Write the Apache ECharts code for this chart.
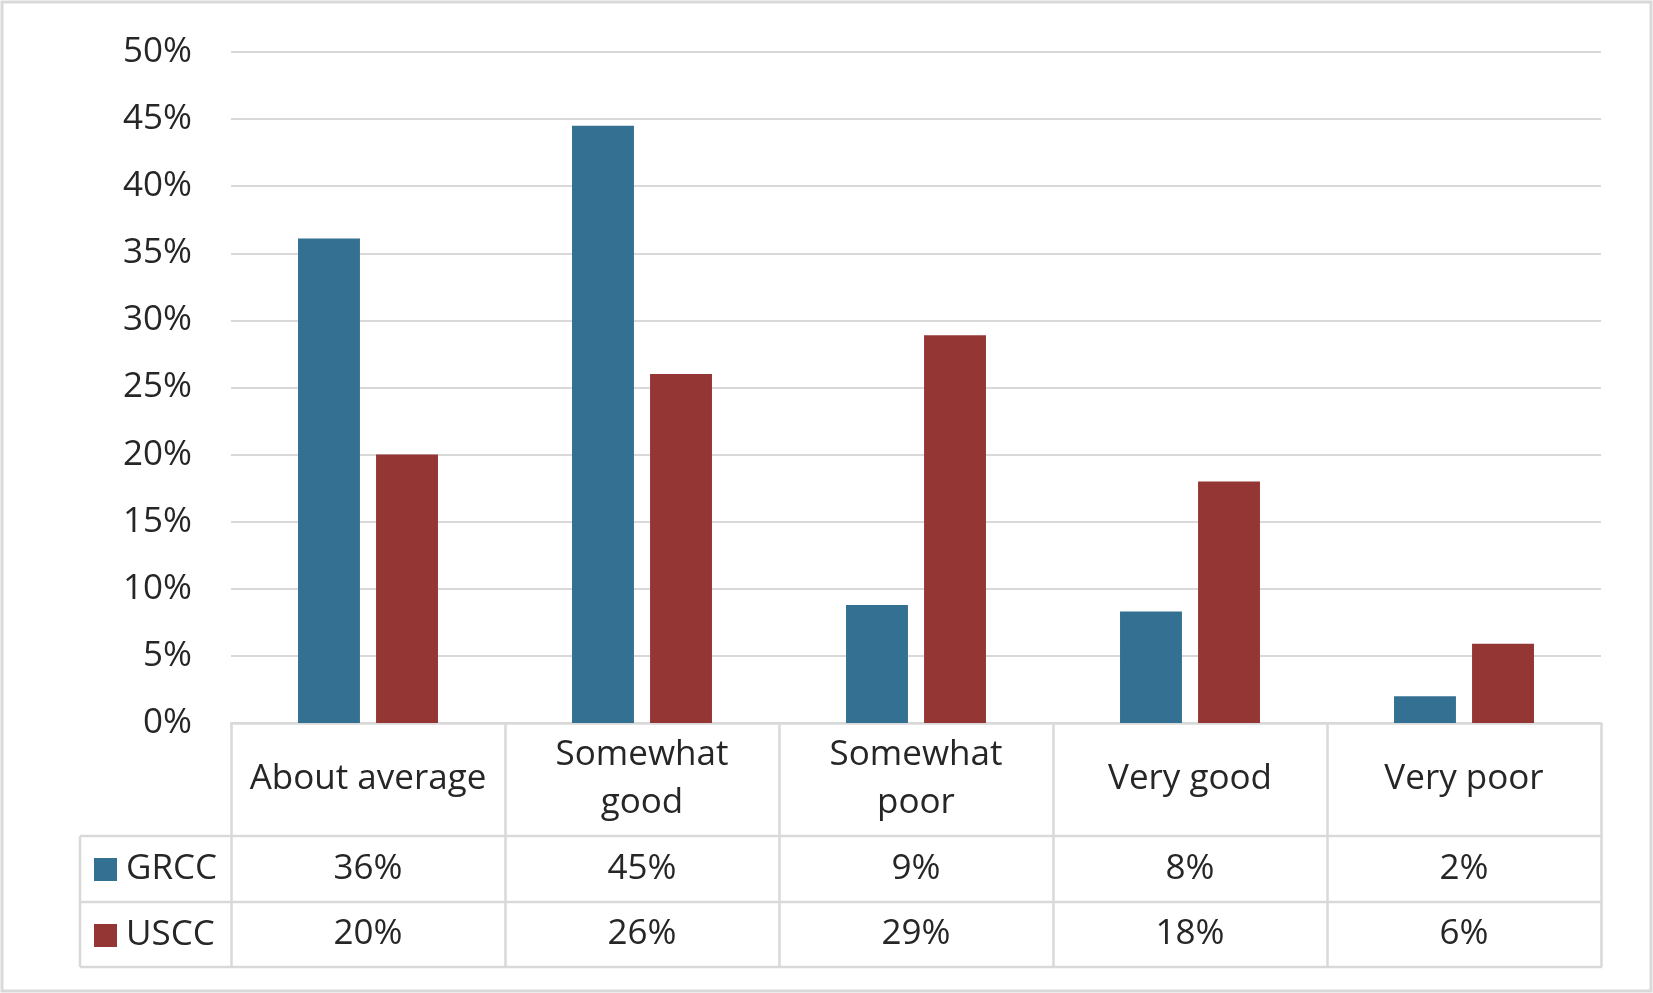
<!DOCTYPE html>
<html>
<head>
<meta charset="utf-8">
<script src="https://cdn.jsdelivr.net/npm/echarts@6/dist/echarts.min.js"></script>
<style>
  html, body { margin: 0; padding: 0; background: #fff; }
  #chart { width: 1653px; height: 993px; }
</style>
</head>
<body>
<div id="chart"></div>
<script>
// ---- data ----
var categories = ['About average', 'Somewhat\ngood', 'Somewhat\npoor', 'Very good', 'Very poor'];
var seriesNames = ['GRCC', 'USCC'];
var grccValues = [36.1, 44.5, 8.8, 8.3, 2.0];
var usccValues = [20.0, 26.0, 28.9, 18.0, 5.9];
var grccTable = ['36%', '45%', '9%', '8%', '2%'];
var usccTable = ['20%', '26%', '29%', '18%', '6%'];
var yTicks = [0, 5, 10, 15, 20, 25, 30, 35, 40, 45, 50];

// ---- layout / style ----
var W = 1653, H = 993;
var gridLeft = 231, gridRight = 1601, gridTop = 52, gridBottom = 723;
var row1 = 836, row2 = 902, tableBottom = 967, tableLeft = 80;
var lineColor = '#d9d9d9';
var textColor = '#262626';
var font = 'Open Sans';
var fs = 35;

var chart = echarts.init(document.getElementById('chart'), null, { renderer: 'canvas' });

function tableAxis(labels, centerY) {
  return {
    type: 'category', position: 'bottom', data: categories,
    axisLine: { show: false }, axisTick: { show: false },
    axisLabel: {
      interval: 0, margin: centerY - gridBottom, verticalAlign: 'middle',
      fontFamily: font, fontSize: fs, color: textColor,
      formatter: function (v, i) { return labels[i]; }
    }
  };
}

var option = {
  backgroundColor: '#fff',
  animation: false,
  grid: { left: gridLeft, right: W - gridRight, top: gridTop, bottom: H - gridBottom, containLabel: false },
  legend: {
    orient: 'vertical', left: 89, top: 847,
    itemWidth: 23, itemHeight: 23, itemGap: 31,
    icon: 'rect',
    data: seriesNames,
    textStyle: { fontFamily: font, fontSize: fs, color: textColor, padding: [0, 0, 0, 4] },
    selectedMode: false
  },
  xAxis: [
    {
      type: 'category', position: 'bottom', data: categories,
      axisLine: { show: true, lineStyle: { color: lineColor, width: 2.5 } },
      axisTick: { show: true, interval: 0, alignWithLabel: false, length: tableBottom - gridBottom,
                  lineStyle: { color: lineColor, width: 2.5 } },
      axisLabel: {
        interval: 0, margin: (row1 - gridBottom) / 2, verticalAlign: 'middle',
        fontFamily: font, fontSize: fs, color: textColor, lineHeight: 48
      }
    },
    tableAxis(grccTable, (row1 + row2) / 2),
    tableAxis(usccTable, (row2 + tableBottom) / 2)
  ],
  yAxis: {
    type: 'value', min: yTicks[0], max: yTicks[yTicks.length - 1], interval: yTicks[1] - yTicks[0],
    axisLine: { show: false }, axisTick: { show: false },
    splitLine: { show: true, lineStyle: { color: lineColor, width: 2 } },
    axisLabel: { margin: 39, fontFamily: font, fontSize: fs, color: textColor, formatter: '{value}%' }
  },
  series: [
    { name: seriesNames[0], type: 'bar', data: grccValues, barWidth: '22.6%', barGap: '26%',
      itemStyle: { color: '#347091' } },
    { name: seriesNames[1], type: 'bar', data: usccValues, barWidth: '22.6%', barGap: '26%',
      itemStyle: { color: '#943634' } }
  ],
  graphic: [
    { type: 'rect', shape: { x: 2, y: 2, width: W - 4, height: H - 4 }, silent: true,
      style: { fill: 'none', stroke: lineColor, lineWidth: 3 } },
    { type: 'line', shape: { x1: tableLeft, y1: row1, x2: gridRight + 1, y2: row1 }, style: { stroke: lineColor, lineWidth: 2.5 } },
    { type: 'line', shape: { x1: tableLeft, y1: row2, x2: gridRight + 1, y2: row2 }, style: { stroke: lineColor, lineWidth: 2.5 } },
    { type: 'line', shape: { x1: tableLeft, y1: tableBottom, x2: gridRight + 1, y2: tableBottom }, style: { stroke: lineColor, lineWidth: 2.5 } },
    { type: 'line', shape: { x1: tableLeft, y1: row1, x2: tableLeft, y2: tableBottom }, style: { stroke: lineColor, lineWidth: 2.5 } }
  ]
};
chart.setOption(option);
</script>
</body>
</html>
